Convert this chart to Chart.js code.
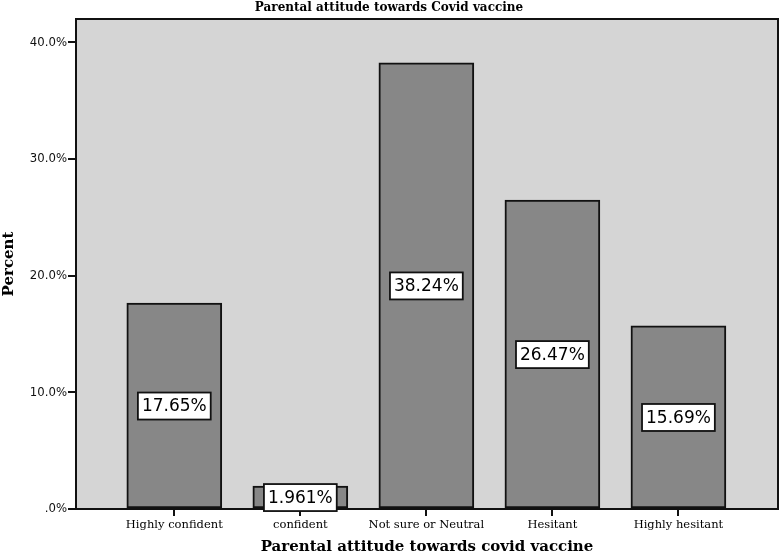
<!DOCTYPE html>
<html><head><meta charset="utf-8">
<script src="https://cdn.jsdelivr.net/npm/chart.js@4/dist/chart.umd.min.js"></script>
<style>html,body{margin:0;padding:0;background:#fff}#wrap{width:780px;height:556px}</style>
</head><body><div id="wrap"><canvas id="c"></canvas></div>
<script>
const categories = ["Highly confident","confident","Not sure or Neutral","Hesitant","Highly hesitant"];
const percentValues = [17.65, 1.961, 38.24, 26.47, 15.69];
const valueLabels = ["17.65%","1.961%","38.24%","26.47%","15.69%"];
const yTicks = [0,10,20,30,40];

const plotBg = {
  id:'plotBg',
  beforeDatasetsDraw(chart){
    const {ctx, chartArea:a} = chart;
    ctx.save();
    ctx.fillStyle = 'rgb(213,213,213)';
    ctx.fillRect(a.left, a.top, a.right-a.left, a.bottom-a.top);
    ctx.restore();
  },
  afterDatasetsDraw(chart){
    const {ctx, chartArea:a} = chart;
    ctx.save();
    ctx.strokeStyle = '#111';
    ctx.lineWidth = 2;
    ctx.strokeRect(a.left, a.top, a.right-a.left, a.bottom-a.top);
    const meta = chart.getDatasetMeta(0);
    const ys = chart.scales.y;
    ctx.font = '17px "DejaVu Sans", sans-serif';
    ctx.textAlign = 'center';
    ctx.textBaseline = 'middle';
    meta.data.forEach((bar,i)=>{
      const v = percentValues[i];
      const cy = ys.getPixelForValue(v/2);
      const txt = valueLabels[i];
      const w = ctx.measureText(txt).width + 8;
      const h = 27;
      ctx.fillStyle = '#fff';
      ctx.fillRect(bar.x - w/2, cy - h/2, w, h);
      ctx.strokeStyle = '#111';
      ctx.lineWidth = 1.8;
      ctx.strokeRect(bar.x - w/2, cy - h/2, w, h);
      ctx.fillStyle = '#000';
      ctx.fillText(txt, bar.x, cy+1);
    });
    ctx.restore();
  }
};

new Chart(document.getElementById('c'), {
  type:'bar',
  data:{
    datasets:[{
      data: percentValues.map((v,i)=>({x:i, y:v})),
      backgroundColor:'rgb(135,135,135)',
      borderColor:'#111',
      borderWidth:2,
      borderSkipped:false,
      barThickness:95
    }]
  },
  options:{
    responsive:true,
    maintainAspectRatio:false,
    animation:false,
    layout:{padding:{top:0,right:2,left:0,bottom:0}},
    plugins:{
      legend:{display:false},
      tooltip:{enabled:false},
      title:{
        display:true,
        text:'Parental attitude towards Covid vaccine',
        font:{family:'"DejaVu Serif", serif', size:12, weight:'bold', lineHeight:1},
        color:'#000',
        padding:{top:2,bottom:5}
      }
    },
    scales:{
      x:{
        type:'linear',
        offset:false,
        min:-0.78, max:4.79,
        afterBuildTicks(s){ s.ticks = categories.map((c,i)=>({value:i})); },
        afterFit(s){ s.height = 47; },
        ticks:{
          callback:(v)=>categories[v],
          font:{family:'"DejaVu Serif", serif', size:11.5},
          color:'#000',
          maxRotation:0, autoSkip:false, padding:2
        },
        grid:{offset:false, drawOnChartArea:false, drawTicks:true, tickLength:7, color:'#111', lineWidth:2},
        border:{display:false},
        title:{
          display:true,
          text:'Parental attitude towards covid vaccine',
          font:{family:'"DejaVu Serif", serif', size:15, weight:'bold'},
          color:'#000',
          padding:{top:4,bottom:0}
        }
      },
      y:{
        min:0, max:42,
        afterBuildTicks(s){ s.ticks = yTicks.map(v=>({value:v})); },
        afterFit(s){ s.width = 76; },
        ticks:{
          callback:(v)=> v===0 ? '.0%' : v.toFixed(1)+'%',
          font:{family:'"DejaVu Sans Condensed","DejaVu Sans", sans-serif', size:13},
          color:'#111', padding:1
        },
        grid:{drawOnChartArea:false, drawTicks:true, tickLength:8, color:'#111', lineWidth:2},
        border:{display:false},
        title:{
          display:true,
          text:'Percent',
          font:{family:'"DejaVu Serif", serif', size:15, weight:'bold'},
          color:'#000',
          padding:{top:0,bottom:2}
        }
      }
    }
  },
  plugins:[plotBg]
});
</script></body></html>
